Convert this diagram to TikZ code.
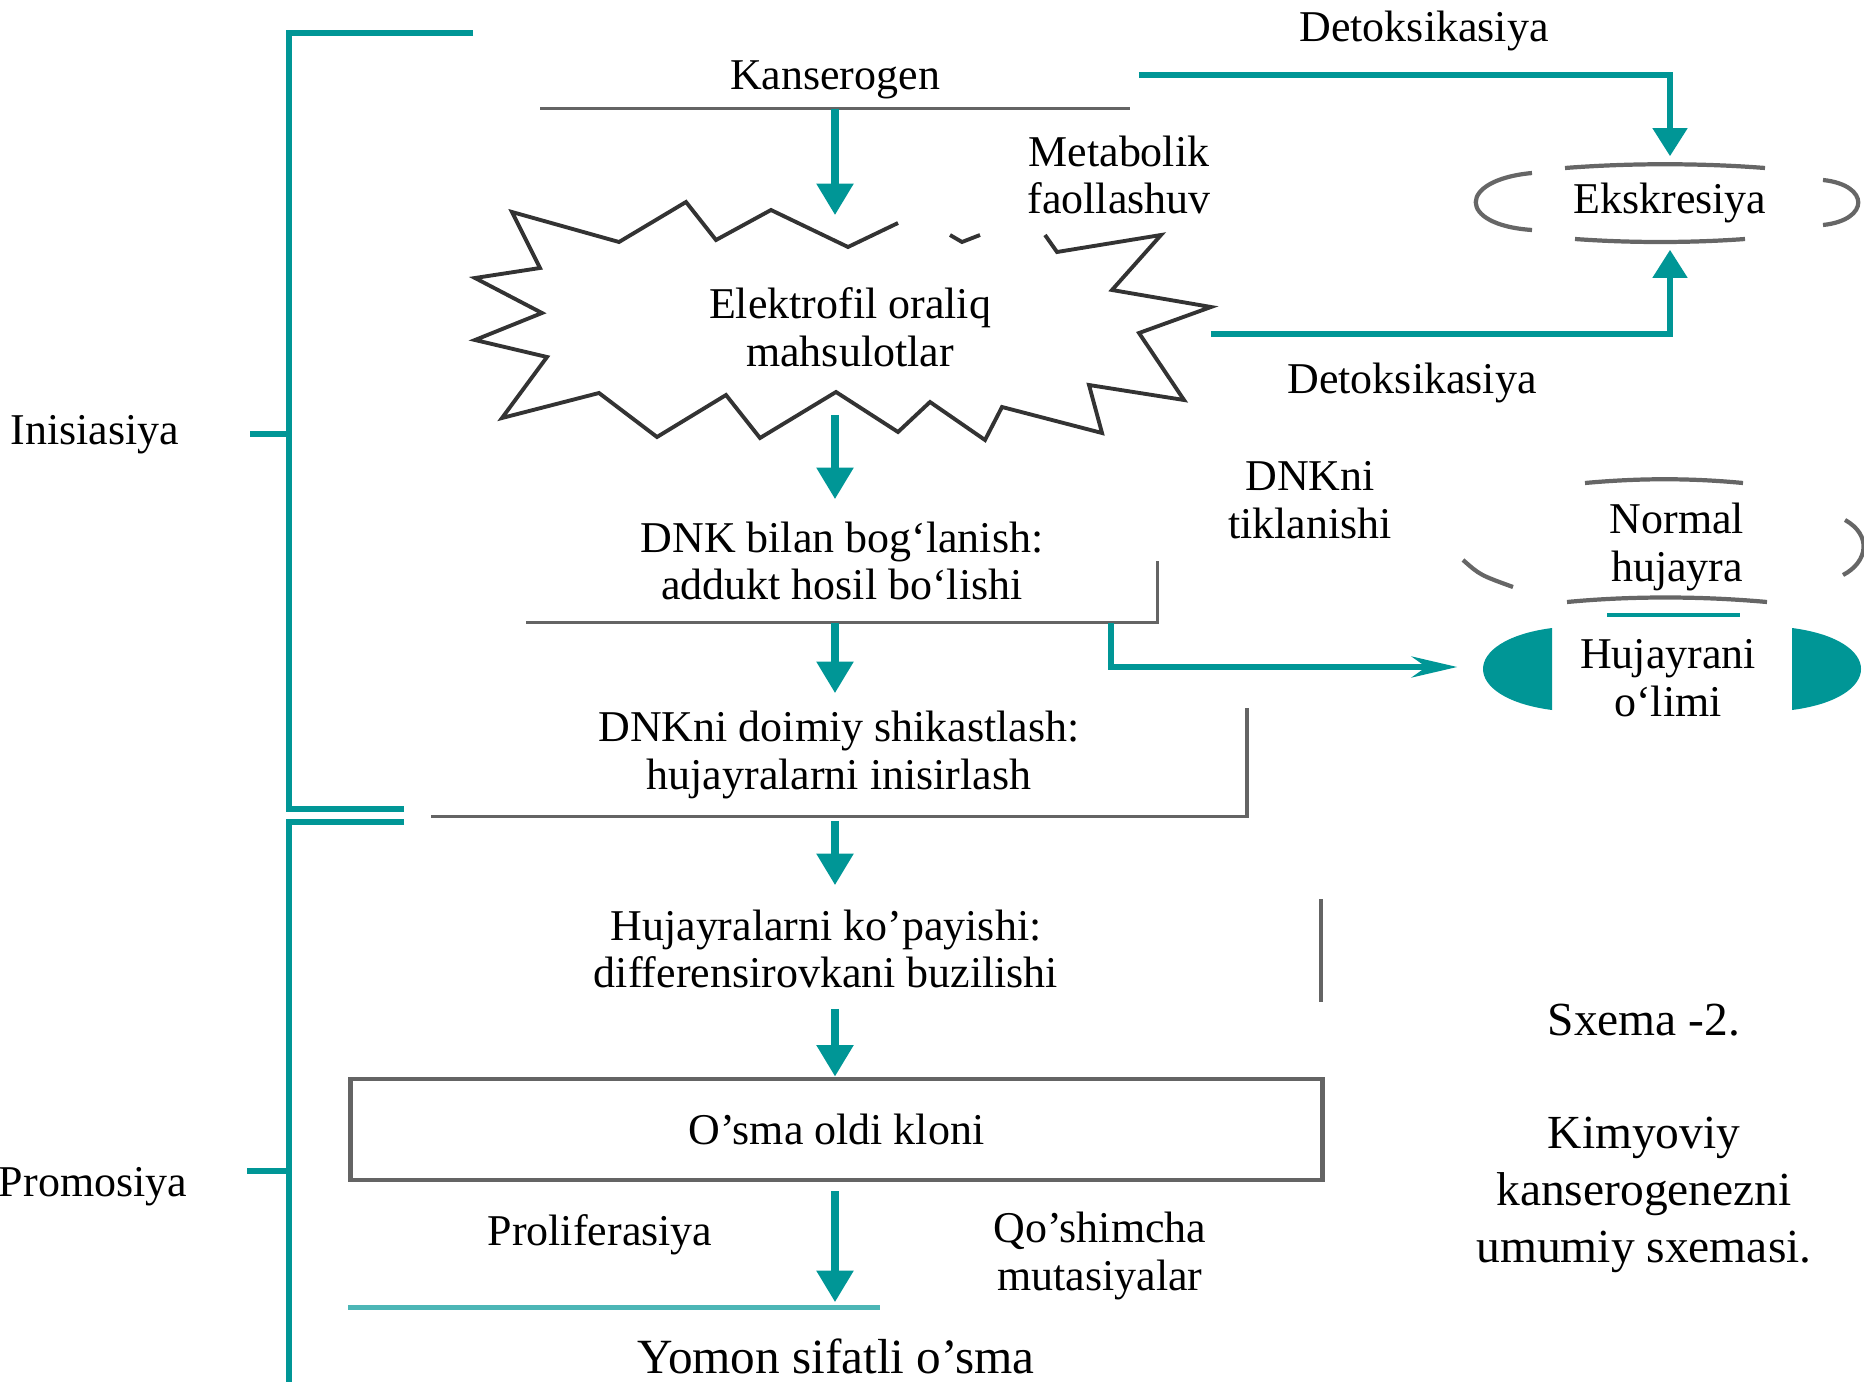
\documentclass[tikz,border=0pt]{standalone}
\usepackage{fontspec}
\setmainfont{Liberation Serif}
\usepackage{xcolor}
\usetikzlibrary{arrows.meta, positioning}

\definecolor{tealc}{RGB}{0,150,150}
\definecolor{lineg}{RGB}{100,100,100}
\newcommand{\mainsz}{\fontsize{12.5}{13.5}\selectfont}
\newcommand{\capsz}{\fontsize{13.5}{16.2}\selectfont}

\begin{document}
\begin{tikzpicture}[
  x=0.01cm, y=-0.01cm,
  txt/.style={
    align=center,
    font=\mainsz,
    inner sep=0pt
  },
  stage/.style={
    txt,
    minimum width=#1
  },
  flow/.style={
    -{Triangle[width=10pt,length=9pt]},
    line width=2.4pt,
    draw=tealc
  },
  detox/.style={
    -{Triangle[width=9.5pt,length=8pt]},
    line width=1.9pt,
    draw=tealc
  },
  thinflow/.style={
    -{Stealth[width=6pt,length=13pt]},
    line width=1.5pt,
    draw=tealc
  },
  bracket/.style={
    line width=1.5pt,
    draw=tealc
  },
  gline/.style={
    line width=0.9pt,
    draw=lineg
  },
  rim/.style={
    line width=1.2pt,
    draw=black!60
  }
]
\useasboundingbox (0,0) rectangle (1864,1382);

% Main chain
\node[stage=5.88cm, minimum height=0.56cm] (kans) at (835,80) {Kanserogen};
\node[stage=7.2cm, minimum height=2.22cm] (elek) at (850,327) {Elektrofil oraliq\\mahsulotlar};
\node[stage=6.3cm, minimum height=1.22cm] (dnk) at (842,561) {DNK bilan bog‘lanish:\\addukt hosil bo‘lishi};
\node[stage=8.14cm, minimum height=1.22cm] (doim) at (839,755) {DNKni doimiy shikastlash:\\hujayralarni inisirlash};
\node[stage=9.88cm, minimum height=1.26cm] (hujk) at (826,949) {Hujayralarni ko’payishi:\\differensirovkani buzilishi};
\node[stage=9.71cm, minimum height=1.01cm, draw=lineg, line width=1.3pt] (klon) at (836.5,1129.5) {O’sma oldi kloni};
\node[txt, font=\fontsize{14}{16}\selectfont, minimum height=1.0cm] (yomon) at (836,1356) {Yomon sifatli o’sma};

% Side texts
\node[txt] (metab) at (1119,175) {Metabolik\\faollashuv};
\node[txt] (detoxa) at (1424,31) {Detoksikasiya};
\node[txt] (detoxb) at (1412,383) {Detoksikasiya};
\node[txt] (tikl) at (1310,500) {DNKni\\tiklanishi};
\node[txt, minimum height=0.92cm] (eks) at (1670,203) {Ekskresiya};
\node[txt] (norm) at (1677,547) {Normal\\hujayra};
\node[txt, minimum width=4.2cm] (olim) at (1668,678) {Hujayrani\\o‘limi};
\node[txt] (prolif) at (600,1235) {Proliferasiya};
\node[txt] (qosh) at (1100,1256) {Qo’shimcha\\mutasiyalar};
\node[txt] (inis) at (95,435) {Inisiasiya};
\node[txt] (prom) at (93,1187) {Promosiya};

% Caption
\node[txt, font=\capsz] (sxema) at (1644,1020) {Sxema -2.};
\node[txt, font=\capsz] (kimyo) at (1644,1195) {Kimyoviy\\kanserogenezni\\umumiy sxemasi.};

% Starburst
\draw[line width=1.1pt, black!80, line join=miter]
  (1045,235) -- (1057,252) -- (1161,235) -- (1112,290) -- (1211,307)
  -- (1139,333) -- (1184,400) -- (1089,385) -- (1102,433) -- (1002,407)
  -- (985,440) -- (930,402) -- (898,432) -- (836,392) -- (760,438)
  -- (726,395) -- (657,437) -- (599,393) -- (502,418) -- (547,357)
  -- (475,340) -- (542,313) -- (475,278) -- (540,268) -- (512,212)
  -- (619,242) -- (686,202) -- (716,240) -- (771,210) -- (848,247)
  -- (898,223);
\draw[line width=1.1pt, black!80] (950,235) -- (962,242) -- (980,235);

% Box edges
\draw[gline] (kans.south west) -- (kans.south east);
\draw[gline] (dnk.south west) -- (dnk.south east) -- ([yshift=0.62cm]dnk.south east);
\draw[gline] (doim.south west) -- (doim.south east) -- ([yshift=1.09cm]doim.south east);
\draw[gline] ([yshift=-0.14cm]hujk.north east) -- ([yshift=0.11cm]hujk.south east);

% Ekskresiya outline
\draw[rim] (1565,168) .. controls (1630,163) and (1700,163) .. (1765,168);
\draw[rim] (1575,239) .. controls (1630,243) and (1690,243) .. (1745,239);
\draw[rim] (1532,173) .. controls (1457,180) and (1457,225) .. (1532,230);
\draw[rim] (1823,180) .. controls (1870,185) and (1870,220) .. (1823,225);

% Normal hujayra outline
\draw[rim] (1585,483) .. controls (1640,478) and (1690,478) .. (1743,483);
\draw[rim] (1567,602) .. controls (1630,596) and (1700,596) .. (1767,602);
\draw[rim] (1463,560) .. controls (1480,575) .. (1513,587);
\draw[rim] (1845,520) .. controls (1872,535) and (1868,562) .. (1843,575);

% Hujayrani o'limi marks
\draw[line width=1.2pt, tealc] (1607,615) -- (1740,615);
\fill[tealc] (1552,628) .. controls (1460,640) and (1460,698) .. (1552,710) -- cycle;
\fill[tealc] (1792,628) .. controls (1884,640) and (1884,698) .. (1792,710) -- cycle;

% Connections
\draw[flow] (kans.south) -- (kans.south |- elek.north);
\draw[flow, shorten <=-0.24cm] (kans.south |- elek.south) -- (kans.south |- dnk.north);
\draw[flow] (kans.south |- dnk.south) -- (kans.south |- doim.north);
\draw[flow, shorten <=0.04cm] (kans.south |- doim.south) -- (kans.south |- hujk.north);
\draw[flow, shorten <=-0.04cm] (kans.south |- hujk.south) -- (kans.south |- klon.north);
\draw[flow, shorten <=0.09cm, shorten >=0.03cm] (klon.south -| kans.south) -- (kans.south |- yomon.north);
\draw[line width=1.3pt, tealc!70] ([yshift=-0.02cm]klon.west |- yomon.north) -- ([xshift=0.44cm,yshift=-0.02cm]yomon.north);

\draw[detox] ([xshift=0.09cm,yshift=0.05cm]kans.east) -| (eks.north);
\draw[detox] ([yshift=-0.07cm]elek.east) -| (eks.south);
\draw[thinflow] ([xshift=-0.47cm]dnk.south east) |- ([yshift=0.11cm]olim.west);

% Stage brackets
\draw[bracket] (473,33) -- (289,33) -- (289,809) -- (404,809);
\draw[bracket] (404,822) -- (289,822) -- (289,1382);
\draw[bracket] (250,434) -- (289,434);
\draw[bracket] (247,1171) -- (289,1171);
\end{tikzpicture}
\end{document}
